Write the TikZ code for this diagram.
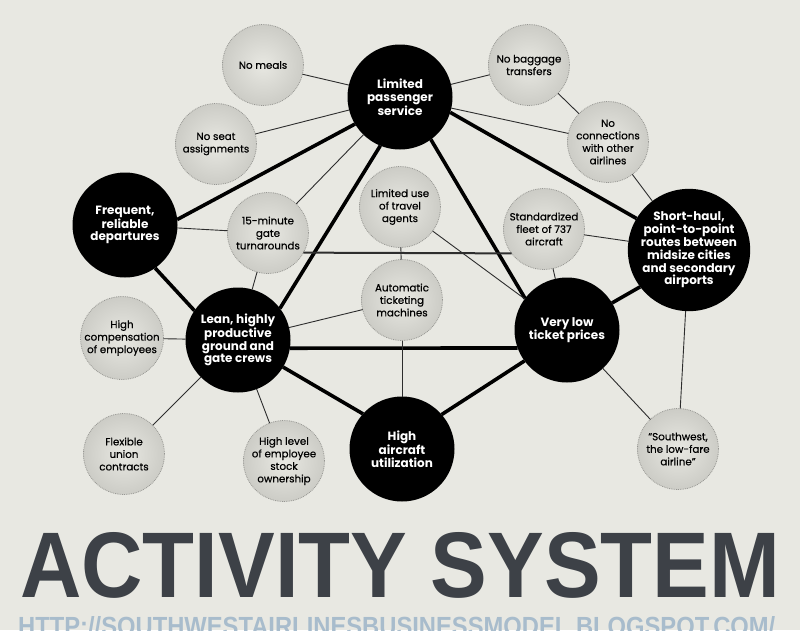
\documentclass[tikz,border=0pt]{standalone}
\usepackage{graphicx}
\usepackage{fontspec}
\setmainfont{Poppins}
\newfontfamily\spotfont{Poppins}[FakeBold=0.5,Ligatures=TeX]
\newfontfamily\headfont{Liberation Sans}

\definecolor{paper}{RGB}{232,232,226}
\definecolor{dust}{RGB}{204,204,198}
\definecolor{rim}{RGB}{150,150,146}
\definecolor{slate}{RGB}{61,65,71}
\definecolor{urlblue}{RGB}{168,188,204}
\definecolor{wire}{RGB}{45,45,45}

\begin{document}
\begin{tikzpicture}[x=1pt,y=-1pt,
	hub/.style={circle,fill=black,text=white,minimum size=105pt,inner sep=0pt,outer sep=0pt,align=center,font=\fontsize{12}{12.8}\selectfont\bfseries},
	spot/.style={circle,draw=rim,densely dotted,line width=0.8pt,inner color=paper,outer color=dust,minimum size=81pt,inner sep=0pt,outer sep=0pt,align=center,font=\spotfont\fontsize{10.3}{12.5}\selectfont},
	link/.style={line width=3.6pt,black},
	bar/.style={line width=2pt,wire},
	tie/.style={line width=0.9pt,wire}]

				\useasboundingbox (0,0) rectangle (800,630);
				\fill [paper] (0,0) rectangle (800,630);
				\clip (0,0) rectangle (800,630);

				\node [hub] (P) at (400,97) {Limited\\passenger\\service};
				\node [hub] (F) at (125,225) {Frequent,\\reliable\\departures};
				\node [hub] (S) at (689,250) {Short-haul,\\point-to-point\\routes between\\midsize cities\\and secondary\\airports};
				\node [hub] (G) at (238,340) {Lean, highly\\productive\\ground and\\gate crews};
				\node [hub] (T) at (567,330) {Very low\\ticket prices};
				\node [hub] (U) at (402,449) {High\\aircraft\\utilization};

				\node [spot] (m) at (263,65) {No meals};
				\node [spot] (a) at (216,144) {No seat\\assignments};
				\node [spot] (t) at (268,233) {15-minute\\gate\\turnarounds};
				\node [spot] (v) at (400,207) {Limited use\\of travel\\agents};
				\node [spot] (k) at (402,300) {Automatic\\ticketing\\machines};
				\node [spot] (b) at (529,65) {No baggage\\transfers};
				\node [spot] (c) at (608,142) {No\\connections\\with other\\airlines};
				\node [spot] (f) at (544,229) {Standardized\\fleet of 737\\aircraft};
				\node [spot] (e) at (122,338) {High\\compensation\\of employees};
				\node [spot] (u) at (124,454) {Flexible\\union\\contracts};
				\node [spot] (o) at (284,461) {High level\\of employee\\stock\\ownership};
				\node [spot] (w) at (678,449) {“Southwest,\\the low-fare\\airline”};

				\draw [link] (P.-149)--(F.6);
				\draw [link] (P.-112)--(G.37);
				\draw [link] (P.-54)--(T.143);
				\draw [link] (P.-17)--(S.149);
				\draw [link] (F.-55)--(G.146);
				\draw [link] (G.-9)--(T.-160);
				\draw [link] (G.-31)--(U.138);
				\draw [link] (U.41)--(T.-144);
				\draw [link] (T.31)--(S.-143);

				\draw [bar] (t.-29)--(f.-143);

				\draw [tie] (m)--(P);
				\draw [tie] (a)--(P);
				\draw [tie] (t)--(P);
				\draw [tie] (b)--(P);
				\draw [tie] (c)--(P);
				\draw [tie] (b)--(c);
				\draw [tie] (c)--(S);
				\draw [tie] (F)--(t);
				\draw [tie] (t)--(G);
				\draw [tie] (v)--(k);
				\draw [tie] (v)--(T);
				\draw [tie] (f)--(S);
				\draw [tie] (f)--(T);
				\draw [tie] (G)--(k);
				\draw [tie] (G)--(e);
				\draw [tie] (G)--(u);
				\draw [tie] (G)--(o);
				\draw [tie] (k)--(U);
				\draw [tie] (T)--(w);
				\draw [tie] (S)--(w);

				\node [anchor=base west,inner sep=0pt,text=slate] (title) at (20,597) {\resizebox{760pt}{65pt}{\headfont\bfseries ACTIVITY SYSTEM}};
				\node [anchor=north west,inner sep=0pt,text=urlblue] (url) at (18,616) {\resizebox{757pt}{19pt}{\headfont\bfseries HTTP://SOUTHWESTAIRLINESBUSINESSMODEL.BLOGSPOT.COM/}};

			\end{tikzpicture}
\end{document}
